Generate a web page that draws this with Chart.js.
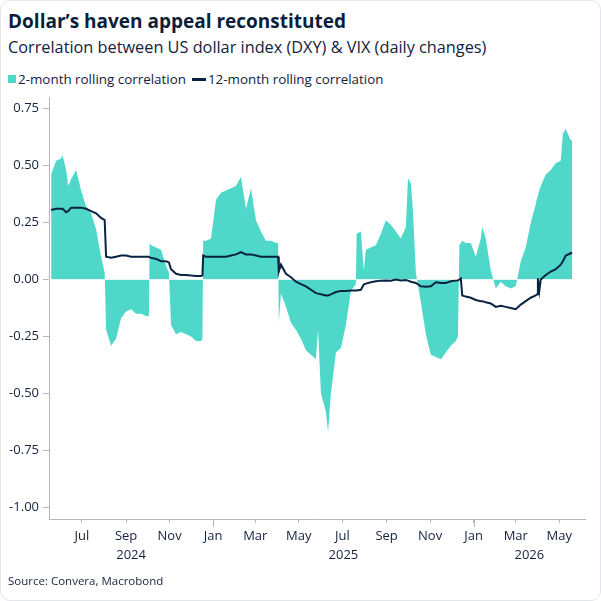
<!DOCTYPE html>
<html>
<head>
<meta charset="utf-8">
<script src="https://cdn.jsdelivr.net/npm/chart.js@4.4.1/dist/chart.umd.min.js"></script>
<style>
  html, body { margin: 0; padding: 0; background: #fff; }
  body { width: 601px; height: 601px; position: relative; font-family: "Open Sans", sans-serif; color: #0b1f3a; }
  #card { position: absolute; left: 0; top: 0; width: 601px; height: 601px; box-sizing: border-box; border: 1px solid #e3e5e8; border-radius: 10px; }
  #title { position: absolute; left: 8px; top: 8px; font-size: 19px; font-weight: 700; white-space: nowrap; }
  #subtitle { position: absolute; left: 8px; top: 36px; font-size: 16.3px; white-space: nowrap; color: #13223d; }
  #legend { position: absolute; left: 8px; top: 70px; font-size: 13.4px; white-space: nowrap; color: #13223d; }
  #legend span.item { display: inline-block; margin-right: 6px; }
  #legend i { display: inline-block; vertical-align: middle; margin-right: 2px; position: relative; top: -1px; }
  #legend i.box { width: 8px; height: 8px; background: #4fd8c9; }
  #legend i.ln { width: 14px; height: 3px; background: #0b2343; }
  #source { position: absolute; left: 8px; top: 573px; font-size: 11.5px; white-space: nowrap; color: #13223d; }
  #wrap { position: absolute; left: 0; top: 0; width: 601px; height: 601px; }
</style>
</head>
<body>
<div id="card"></div>
<div id="title">Dollar’s haven appeal reconstituted</div>
<div id="subtitle">Correlation between US dollar index (DXY) &amp; VIX (daily changes)</div>
<div id="legend"><span class="item"><i class="box"></i>2-month rolling correlation</span><span class="item"><i class="ln"></i>12-month rolling correlation</span></div>
<div id="wrap"><canvas id="myChart"></canvas></div>
<div id="source">Source: Convera, Macrobond</div>
<script>
// observation dates (roughly weekly, extra points where the series jump)
var dates = [
  '2024-05-19','2024-05-26','2024-06-02','2024-06-04','2024-06-09','2024-06-12','2024-06-16','2024-06-23','2024-06-30',
  '2024-07-07','2024-07-14','2024-07-21','2024-07-28','2024-08-02','2024-08-04','2024-08-11','2024-08-18','2024-08-25',
  '2024-09-01','2024-09-08','2024-09-15','2024-09-22','2024-09-29','2024-10-03','2024-10-04','2024-10-06','2024-10-13',
  '2024-10-20','2024-10-27','2024-10-31','2024-11-03','2024-11-10','2024-11-17','2024-11-24','2024-12-01','2024-12-08',
  '2024-12-15','2024-12-17','2024-12-18','2024-12-22','2024-12-29',
  '2025-01-05','2025-01-12','2025-01-19','2025-01-26','2025-02-02','2025-02-09','2025-02-16','2025-02-23','2025-03-02',
  '2025-03-09','2025-03-16','2025-03-23','2025-03-30','2025-04-02','2025-04-03','2025-04-06','2025-04-13','2025-04-20',
  '2025-04-27','2025-05-04','2025-05-11','2025-05-18','2025-05-25','2025-05-28','2025-06-01','2025-06-08','2025-06-11',
  '2025-06-15','2025-06-22','2025-06-29','2025-07-06','2025-07-13','2025-07-20','2025-07-21','2025-07-27','2025-07-31',
  '2025-08-03','2025-08-10','2025-08-17','2025-08-24','2025-08-31','2025-09-07','2025-09-14','2025-09-21','2025-09-28',
  '2025-10-01','2025-10-05','2025-10-08','2025-10-12','2025-10-19','2025-10-26','2025-11-02','2025-11-09','2025-11-16',
  '2025-11-23','2025-11-30','2025-12-07','2025-12-10','2025-12-12','2025-12-14','2025-12-16','2025-12-21','2025-12-28',
  '2026-01-04','2026-01-11','2026-01-13','2026-01-18','2026-01-25','2026-02-01','2026-02-08','2026-02-15','2026-02-22',
  '2026-03-01','2026-03-08','2026-03-15','2026-03-22','2026-03-29','2026-03-31','2026-04-01','2026-04-03','2026-04-05',
  '2026-04-12','2026-04-19','2026-04-26','2026-05-03','2026-05-06','2026-05-10','2026-05-17','2026-05-19'
];

var corr2m = [
  0.46, 0.52, 0.53, 0.545, 0.48, 0.41, 0.44, 0.48, 0.39,
  0.32, 0.29, 0.22, 0.10, 0.03, -0.22, -0.29, -0.26, -0.17,
  -0.14, -0.13, -0.15, -0.15, -0.16, -0.16, 0.16, 0.15, 0.14,
  0.13, 0.06, 0.03, -0.20, -0.24, -0.23, -0.24, -0.25, -0.27,
  -0.27, -0.26, 0.17, 0.17, 0.18,
  0.35, 0.38, 0.39, 0.40, 0.41, 0.45, 0.31, 0.40, 0.26,
  0.21, 0.17, 0.17, 0.16, 0.16, -0.19, -0.06, -0.12, -0.19,
  -0.22, -0.26, -0.31, -0.33, -0.35, -0.22, -0.50, -0.58, -0.67,
  -0.50, -0.32, -0.30, -0.20, -0.05, -0.02, 0.20, 0.21, 0.04,
  0.13, 0.14, 0.15, 0.20, 0.26, 0.24, 0.21, 0.18, 0.23,
  0.445, 0.42, 0.30, 0.03, -0.10, -0.24, -0.33, -0.34, -0.35,
  -0.32, -0.29, -0.27, -0.25, 0.15, 0.16, 0.17, 0.16, 0.16,
  0.10, 0.18, 0.23, 0.18, 0.04, -0.04, -0.01, -0.03, -0.04,
  -0.03, 0.08, 0.14, 0.25, 0.33, 0.36, 0.37, 0.39, 0.41,
  0.46, 0.48, 0.51, 0.52, 0.64, 0.66, 0.61, 0.61
];

var corr12m = [
  0.305, 0.31, 0.31, 0.31, 0.295, 0.30, 0.315, 0.315, 0.315,
  0.31, 0.30, 0.29, 0.27, 0.26, 0.10, 0.095, 0.10, 0.105,
  0.105, 0.10, 0.10, 0.10, 0.10, 0.10, 0.097, 0.095, 0.09,
  0.08, 0.08, 0.075, 0.045, 0.025, 0.02, 0.02, 0.017, 0.015,
  0.015, 0.018, 0.105, 0.10, 0.10,
  0.10, 0.10, 0.10, 0.105, 0.11, 0.12, 0.11, 0.11, 0.105,
  0.10, 0.10, 0.10, 0.10, 0.10, 0.035, 0.065, 0.025, 0.01,
  -0.01, -0.02, -0.03, -0.045, -0.06, -0.062, -0.065, -0.07, -0.07,
  -0.065, -0.055, -0.05, -0.05, -0.048, -0.048, -0.048, -0.045, -0.022,
  -0.018, -0.012, -0.008, -0.005, -0.004, -0.005, 0.0, -0.004, -0.002,
  -0.005, -0.01, -0.012, -0.015, -0.03, -0.032, -0.03, -0.012, -0.015,
  -0.015, -0.008, -0.005, -0.004, 0.0, 0.005, -0.07, -0.075, -0.08,
  -0.09, -0.095, -0.095, -0.10, -0.105, -0.12, -0.115, -0.12, -0.125,
  -0.13, -0.11, -0.095, -0.08, -0.07, -0.065, 0.005, -0.05, 0.0,
  0.02, 0.035, 0.045, 0.065, 0.08, 0.105, 0.115, 0.118
];

var monthTicks = ['2024-07-01','2024-09-01','2024-11-01','2025-01-01','2025-03-01','2025-05-01',
                  '2025-07-01','2025-09-01','2025-11-01','2026-01-01','2026-03-01','2026-05-01'];
var monthLabels = ['Jul','Sep','Nov','Jan','Mar','May','Jul','Sep','Nov','Jan','Mar','May'];
var years = [2024, 2025, 2026];
var yTicks = [-1.0, -0.75, -0.5, -0.25, 0, 0.25, 0.5, 0.75];
var axisStart = '2024-05-16';
var axisEnd = '2026-06-06';

function dayNum(s) {
  var p = s.split('-');
  return (Date.UTC(+p[0], +p[1] - 1, +p[2]) - Date.UTC(2024, 0, 1)) / 86400000;
}

var xMin = dayNum(axisStart), xMax = dayNum(axisEnd);
var monthVals = monthTicks.map(dayNum);

var ink = '#13223d';
var axisGrey = '#b3b6ba';
var tickFont = { family: '"Open Sans", sans-serif', size: 13 };

var extras = {
  id: 'extras',
  afterDatasetDraw: function (chart, args) {
    if (args.index !== 1) return;
    var ctx = chart.ctx, a = chart.chartArea;
    var y0 = chart.scales.y.getPixelForValue(0);
    ctx.save();
    ctx.strokeStyle = 'rgba(255,255,255,0.7)';
    ctx.lineWidth = 1;
    ctx.beginPath();
    ctx.moveTo(a.left, Math.round(y0) + 0.5);
    ctx.lineTo(a.right, Math.round(y0) + 0.5);
    ctx.stroke();
    ctx.restore();
  },
  afterDraw: function (chart) {
    // longer tick marks at year boundaries
    var ctx = chart.ctx, a = chart.chartArea, sx = chart.scales.x;
    ctx.save();
    ctx.strokeStyle = axisGrey;
    ctx.lineWidth = 1;
    monthLabels.forEach(function (m, i) {
      if (m !== 'Jan') return;
      var px = Math.round(sx.getPixelForValue(monthVals[i])) + 0.5;
      ctx.beginPath();
      ctx.moveTo(px, a.bottom);
      ctx.lineTo(px, a.bottom + 8);
      ctx.stroke();
    });
    ctx.restore();
  }
};

var ctx = document.getElementById('myChart').getContext('2d');
var chart = new Chart(ctx, {
  type: 'line',
  data: {
    datasets: [{
      label: '12-month rolling correlation',
      data: dates.map(function (d, i) { return { x: dayNum(d), y: corr12m[i] }; }),
      borderColor: '#0b2343',
      borderWidth: 2,
      pointRadius: 0,
      fill: false,
      order: 0
    }, {
      label: '2-month rolling correlation',
      data: dates.map(function (d, i) { return { x: dayNum(d), y: corr2m[i] }; }),
      backgroundColor: '#4fd8c9',
      borderWidth: 0,
      pointRadius: 0,
      fill: 'origin',
      order: 1
    }]
  },
  options: {
    responsive: true,
    maintainAspectRatio: false,
    animation: false,
    layout: { padding: { top: 97, left: 0, right: 16, bottom: 36 } },
    plugins: { legend: { display: false }, tooltip: { enabled: false } },
    scales: {
      x: {
        type: 'linear',
        min: xMin,
        max: xMax,
        weight: 0,
        afterBuildTicks: function (scale) {
          scale.ticks = monthVals.map(function (v) { return { value: v }; });
        },
        afterFit: function (scale) { scale.height = 26; },
        grid: { drawOnChartArea: false, drawTicks: true, tickLength: 4, color: axisGrey },
        border: { display: true, color: axisGrey, width: 1 },
        ticks: {
          autoSkip: false, maxRotation: 0, padding: 5, color: ink, font: tickFont,
          callback: function (v) {
            var i = monthVals.indexOf(v);
            return i >= 0 ? monthLabels[i] : '';
          }
        }
      },
      x2: {
        type: 'linear',
        position: 'bottom',
        min: xMin,
        max: xMax,
        weight: 1,
        afterBuildTicks: function (scale) {
          scale.ticks = years.map(function (y) {
            var s = Math.max(xMin, dayNum(y + '-01-01'));
            var e = Math.min(xMax, dayNum((y + 1) + '-01-01'));
            return { value: (s + e) / 2 };
          });
        },
        afterFit: function (scale) { scale.height = 20; },
        grid: { display: false, drawTicks: false },
        border: { display: false },
        ticks: {
          autoSkip: false, maxRotation: 0, padding: 2, color: ink, font: tickFont,
          callback: function (v, i) { return String(years[i]); }
        }
      },
      y: {
        type: 'linear',
        min: -1.05,
        max: 0.8,
        afterBuildTicks: function (scale) {
          scale.ticks = yTicks.map(function (v) { return { value: v }; });
        },
        afterFit: function (scale) { scale.width = 49; },
        grid: { drawOnChartArea: false, drawTicks: true, tickLength: 6, color: axisGrey },
        border: { display: true, color: axisGrey, width: 1 },
        ticks: {
          padding: 4, color: ink, font: tickFont,
          callback: function (v) { return v.toFixed(2); }
        }
      }
    }
  },
  plugins: [extras]
});
</script>
</body>
</html>
